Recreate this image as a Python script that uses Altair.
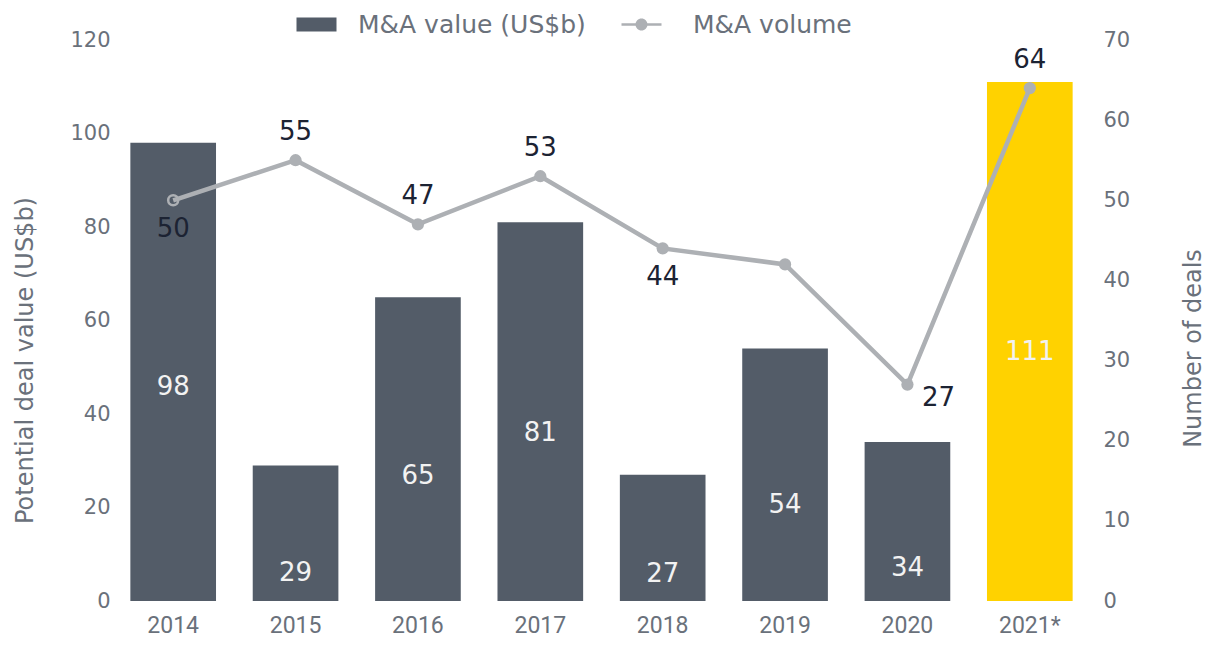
import altair as alt
import pandas as pd

years = ["2014", "2015", "2016", "2017", "2018", "2019", "2020", "2021*"]
values = [98, 29, 65, 81, 27, 54, 34, 111]
volumes = [50, 55, 47, 53, 44, 42, 27, 64]

above_years = ["2015", "2016", "2017", "2021*"]
below_years = ["2014", "2018"]
right_years = ["2020"]
ring_years = ["2014"]
highlight_year = "2021*"

df = pd.DataFrame({
    "year": years,
    "value": values,
    "volume": volumes,
    "s_bar": ["M&A value (US$b)"] * len(years),
    "s_line": ["M&A volume"] * len(years),
})

BAR = "#535c68"
YEL = "#ffd200"
LINE = "#adb0b4"
AX = "#6a717b"
NUMF = "DejaVu Sans"
TXTF = "DejaVu Sans"

W, H = 979, 561

x = alt.X("year:N", sort=years,
          scale=alt.Scale(paddingInner=0.3, paddingOuter=0.15),
          axis=alt.Axis(title=None, labelAngle=0, labelFont="Roboto",
                        labelFontSize=23, labelColor=AX, domain=False, ticks=False,
                        labelPadding=13))

yL = alt.Scale(domain=[0, 120])
yR = alt.Scale(domain=[0, 70])

left_axis = alt.Axis(title="Potential deal value (US$b)", values=list(range(0, 121, 20)),
                     grid=False, domain=False, ticks=False, labelFont=NUMF,
                     labelFontSize=21, labelColor=AX, labelPadding=2,
                     titleFont=TXTF, titleFontSize=24, titleFontWeight="normal",
                     titleColor=AX, titleX=-87, titleY=320, titleAngle=-90,
                     titleBaseline="middle", titleAlign="center")
right_axis = alt.Axis(title="Number of deals", orient="right", values=list(range(0, 71, 10)),
                      grid=False, domain=False, ticks=False, labelFont=NUMF,
                      labelFontSize=21, labelColor=AX, labelPadding=12,
                      titleFont=TXTF, titleFontSize=24, titleFontWeight="normal",
                      titleColor=AX, titleX=102, titleY=308, titleAngle=-90,
                      titleBaseline="middle", titleAlign="center")

bar_sym = "M-2,-0.7L2,-0.7L2,0.7L-2,0.7Z"
line_sym = "M-2,-0.12L2,-0.12L2,0.12L-2,0.12ZM0.6,0A0.6,0.6,0,1,1,-0.6,0A0.6,0.6,0,1,1,0.6,0Z"

base = alt.Chart(df)

bars = base.transform_filter(alt.datum.year != highlight_year).mark_bar().encode(
    x=x,
    y=alt.Y("value:Q", scale=yL, axis=left_axis),
    color=alt.Color("s_bar:N", scale=alt.Scale(range=[BAR]),
                    legend=alt.Legend(title=None, orient="none", legendX=192, legendY=-28,
                                      symbolType=bar_sym, symbolSize=400,
                                      symbolStrokeWidth=0, labelFont=TXTF, labelLimit=400,
                                      labelFontSize=25, labelColor=AX, labelOffset=29)),
)

hl = base.transform_filter(alt.datum.year == highlight_year).mark_bar(color=YEL).encode(
    x=x, y=alt.Y("value:Q", scale=yL))

bar_labels = base.transform_calculate(
    lab=alt.expr.if_(alt.datum.value < 40, alt.datum.value * 0.21,
                     alt.datum.value * 0.575 - 10.6)
).mark_text(font=NUMF, fontSize=26, color="#f2f2f2", baseline="middle").encode(
    x=x, y=alt.Y("lab:Q", scale=yL), text="value:Q")

left = alt.layer(bars, hl, bar_labels)

line = base.mark_line(strokeWidth=4.5).encode(
    x=x,
    y=alt.Y("volume:Q", scale=yR, axis=right_axis),
    stroke=alt.Stroke("s_line:N", scale=alt.Scale(range=[LINE]),
                      legend=alt.Legend(title=None, orient="none", legendX=517, legendY=-28,
                                        symbolType=line_sym, symbolSize=400,
                                        symbolFillColor=LINE, symbolStrokeWidth=0,
                                        labelFont=TXTF, labelFontSize=25, labelColor=AX,
                                        labelLimit=400, labelOffset=39)),
)
pts = base.transform_filter(
    ~alt.FieldOneOfPredicate(field="year", oneOf=ring_years)
).mark_circle(size=150, color=LINE, opacity=1).encode(
    x=x, y=alt.Y("volume:Q", scale=yR))
ring = base.transform_filter(
    alt.FieldOneOfPredicate(field="year", oneOf=ring_years)
).mark_point(size=100, color=LINE, filled=False, strokeWidth=2.5, opacity=1).encode(
    x=x, y=alt.Y("volume:Q", scale=yR))

def vlab(sel, **kw):
    return base.transform_filter(alt.FieldOneOfPredicate(field="year", oneOf=sel)).mark_text(
        font=NUMF, fontSize=26, color="#1c2333", baseline="middle", **kw).encode(
        x=x, y=alt.Y("volume:Q", scale=yR), text="volume:Q")

right = alt.layer(line, pts, ring, vlab(above_years, dy=-28), vlab(below_years, dy=29),
                  vlab(right_years, dx=31, dy=13))

chart = alt.layer(left, right).resolve_scale(y="independent").properties(
    width=W, height=H, padding={"left": 5, "top": 4, "right": 0, "bottom": 0}
).configure_view(stroke=None)

chart.save("out.html", embed_options={"renderer": "svg", "actions": False})
